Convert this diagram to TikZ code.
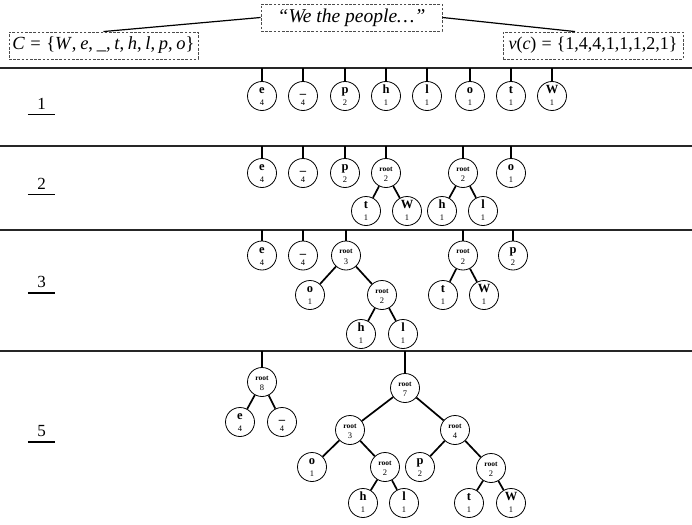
\documentclass[tikz,border=0pt]{standalone}
\usepackage{fontspec}
\setmainfont{Liberation Serif}
\begin{document}
\begin{tikzpicture}[x=1pt,y=-1pt,
  hnode/.style={circle,draw,line width=0.8pt,minimum size=29pt,inner sep=0pt,fill=white},
  lett/.style={inner sep=0pt,font=\fontsize{12.5}{13}\selectfont\bfseries},
  rlab/.style={inner sep=0pt,font=\fontsize{7.5}{8}\selectfont\bfseries},
  cnt/.style={inner sep=0pt,font=\fontsize{8.5}{9}\selectfont},
  edge/.style={line width=1.7pt},
  stem/.style={line width=1.5pt},
  sepline/.style={line width=2pt,draw=black!85},
  dbox/.style={draw=black!70,line width=0.9pt,dash pattern=on 2.6pt off 1.6pt,
    inner sep=0pt,minimum height=27pt,font=\fontsize{18}{20}\selectfont},
  link/.style={line width=1.2pt},
  rowlab/.style={inner sep=0pt,minimum width=27pt,font=\fontsize{17}{18}\selectfont},
  uline/.style={line width=1.2pt}
]
\newcommand\leafat[5]{%
  \node[hnode] (#1) at (#2,#3) {};
  \node[lett,anchor=base] (#1-l) at ([yshift=2.3pt]#1.center) {#4};
  \node[cnt,anchor=base] (#1-c) at ([yshift=-9.7pt]#1.center) {#5};}
\newcommand\rootat[4]{%
  \node[hnode] (#1) at (#2,#3) {};
  \node[rlab,anchor=base] (#1-l) at ([yshift=1.8pt]#1.center) {root};
  \node[cnt,anchor=base] (#1-c) at ([yshift=-8.9pt]#1.center) {#4};}
\newcommand\ulab[4]{%
  \node[rowlab,anchor=base] (#1) at (#2,#3) {#4};
  \draw[uline] ([yshift=-5.4pt]#1.base west) -- ([yshift=-5.4pt]#1.base east);}

\useasboundingbox[fill=white] (0,0) rectangle (692,524);

% header: the text, its alphabet and its counts
\node[dbox,minimum width=181pt,font=\fontsize{19.5}{21}\selectfont] (txt) at (351.5,17.5) {\itshape ``We the people\ldots''};
\node[dbox,minimum width=189pt,font=\fontsize{18.5}{20}\selectfont] (alph) at (103.5,45.5)
  {\itshape C\hspace{.3em}\upshape=\hspace{.3em}\{\itshape W\/\upshape,\hspace{.2em}\itshape e\upshape,\hspace{.2em}\_,\hspace{.2em}\itshape t\upshape,\hspace{.2em}\itshape h\upshape,\hspace{.2em}\itshape l\upshape,\hspace{.2em}\itshape p\upshape,\hspace{.2em}\itshape o\upshape\}};
\node[dbox,minimum width=180pt] (freq) at (593,45.5)
  {\itshape v\upshape(\itshape c\upshape)\hspace{.28em}=\hspace{.28em}\{1,4,4,1,1,1,2,1\}};
\draw[link] (txt.west) -- (alph.north);
\draw[link] (txt.east) -- ([xshift=-18pt]freq.north);

% step separators
\coordinate (s0) at (0,68);    \coordinate (s0e) at (692,68);
\coordinate (s1) at (0,145.5); \coordinate (s1e) at (692,145.5);
\coordinate (s2) at (0,229.5); \coordinate (s2e) at (692,229.5);
\coordinate (s3) at (0,351);   \coordinate (s3e) at (692,351);
\draw[sepline] (s0) -- (s0e);
\draw[sepline] (s1) -- (s1e);
\draw[sepline] (s2) -- (s2e);
\draw[sepline] (s3) -- (s3e);

% step numbers
\ulab{lab1}{41.5}{109.3}{1}
\ulab{lab2}{41.5}{189.3}{2}
\ulab{lab3}{41.5}{287.6}{3}
\ulab{lab5}{41.5}{436.6}{5}

% step 1: the forest of single symbols
\leafat{ae}{262}{96}{e}{4}
\leafat{au}{303}{96}{\_}{4}
\leafat{ap}{345}{96}{p}{2}
\leafat{ah}{386}{96}{h}{1}
\leafat{al}{427}{96}{l}{1}
\leafat{ao}{470}{96}{o}{1}
\leafat{at}{511}{96}{t}{1}
\leafat{aw}{552}{96}{W}{1}
\foreach \n in {ae,au,ap,ah,al,ao,at,aw} \draw[stem] (\n) -- (\n |- s0);

% step 2
\leafat{be}{262}{173}{e}{4}
\leafat{bu}{303}{173}{\_}{4}
\leafat{bp}{345}{173}{p}{2}
\rootat{bra}{386}{173}{2}
\leafat{bt}{366}{211}{t}{1}
\leafat{bw}{407}{211}{W}{1}
\rootat{brb}{463}{173}{2}
\leafat{bh}{442}{211}{h}{1}
\leafat{bl}{483}{211}{l}{1}
\leafat{bo}{511}{173}{o}{1}
\foreach \n in {be,bu,bp,bra,brb,bo} \draw[stem] (\n) -- (\n |- s1);
\draw[edge] (bra) -- (bt);
\draw[edge] (bra) -- (bw);
\draw[edge] (brb) -- (bh);
\draw[edge] (brb) -- (bl);

% step 3
\leafat{ce}{262}{255.5}{e}{4}
\leafat{cu}{303}{255.5}{\_}{4}
\rootat{cra}{346}{255.5}{3}
\leafat{co}{310}{295}{o}{1}
\rootat{crb}{382}{295}{2}
\leafat{ch}{361}{334}{h}{1}
\leafat{cl}{403}{334}{l}{1}
\rootat{crc}{463}{255.5}{2}
\leafat{ct}{443}{295}{t}{1}
\leafat{cw}{484}{295}{W}{1}
\leafat{cp}{513}{255.5}{p}{2}
\foreach \n in {ce,cu,cra,crc,cp} \draw[stem] (\n) -- (\n |- s2);
\draw[edge] (cra) -- (co);
\draw[edge] (cra) -- (crb);
\draw[edge] (crb) -- (ch);
\draw[edge] (crb) -- (cl);
\draw[edge] (crc) -- (ct);
\draw[edge] (crc) -- (cw);

% step 5
\rootat{dra}{262}{382}{8}
\leafat{de}{240}{422}{e}{4}
\leafat{du}{282}{422}{\_}{4}
\rootat{drb}{405}{388}{7}
\rootat{drc}{350}{430}{3}
\rootat{drd}{455}{430}{4}
\leafat{do}{312}{467}{o}{1}
\rootat{dre}{385}{467}{2}
\leafat{dh}{363}{503}{h}{1}
\leafat{dl}{404}{503}{l}{1}
\leafat{dp}{420}{467}{p}{2}
\rootat{drf}{491}{468}{2}
\leafat{dt}{469}{503}{t}{1}
\leafat{dw}{511}{503}{W}{1}
\foreach \n in {dra,drb} \draw[stem] (\n) -- (\n |- s3);
\draw[edge] (dra) -- (de);
\draw[edge] (dra) -- (du);
\draw[edge] (drb) -- (drc);
\draw[edge] (drb) -- (drd);
\draw[edge] (drc) -- (do);
\draw[edge] (drc) -- (dre);
\draw[edge] (dre) -- (dh);
\draw[edge] (dre) -- (dl);
\draw[edge] (drd) -- (dp);
\draw[edge] (drd) -- (drf);
\draw[edge] (drf) -- (dt);
\draw[edge] (drf) -- (dw);
\end{tikzpicture}
\end{document}
